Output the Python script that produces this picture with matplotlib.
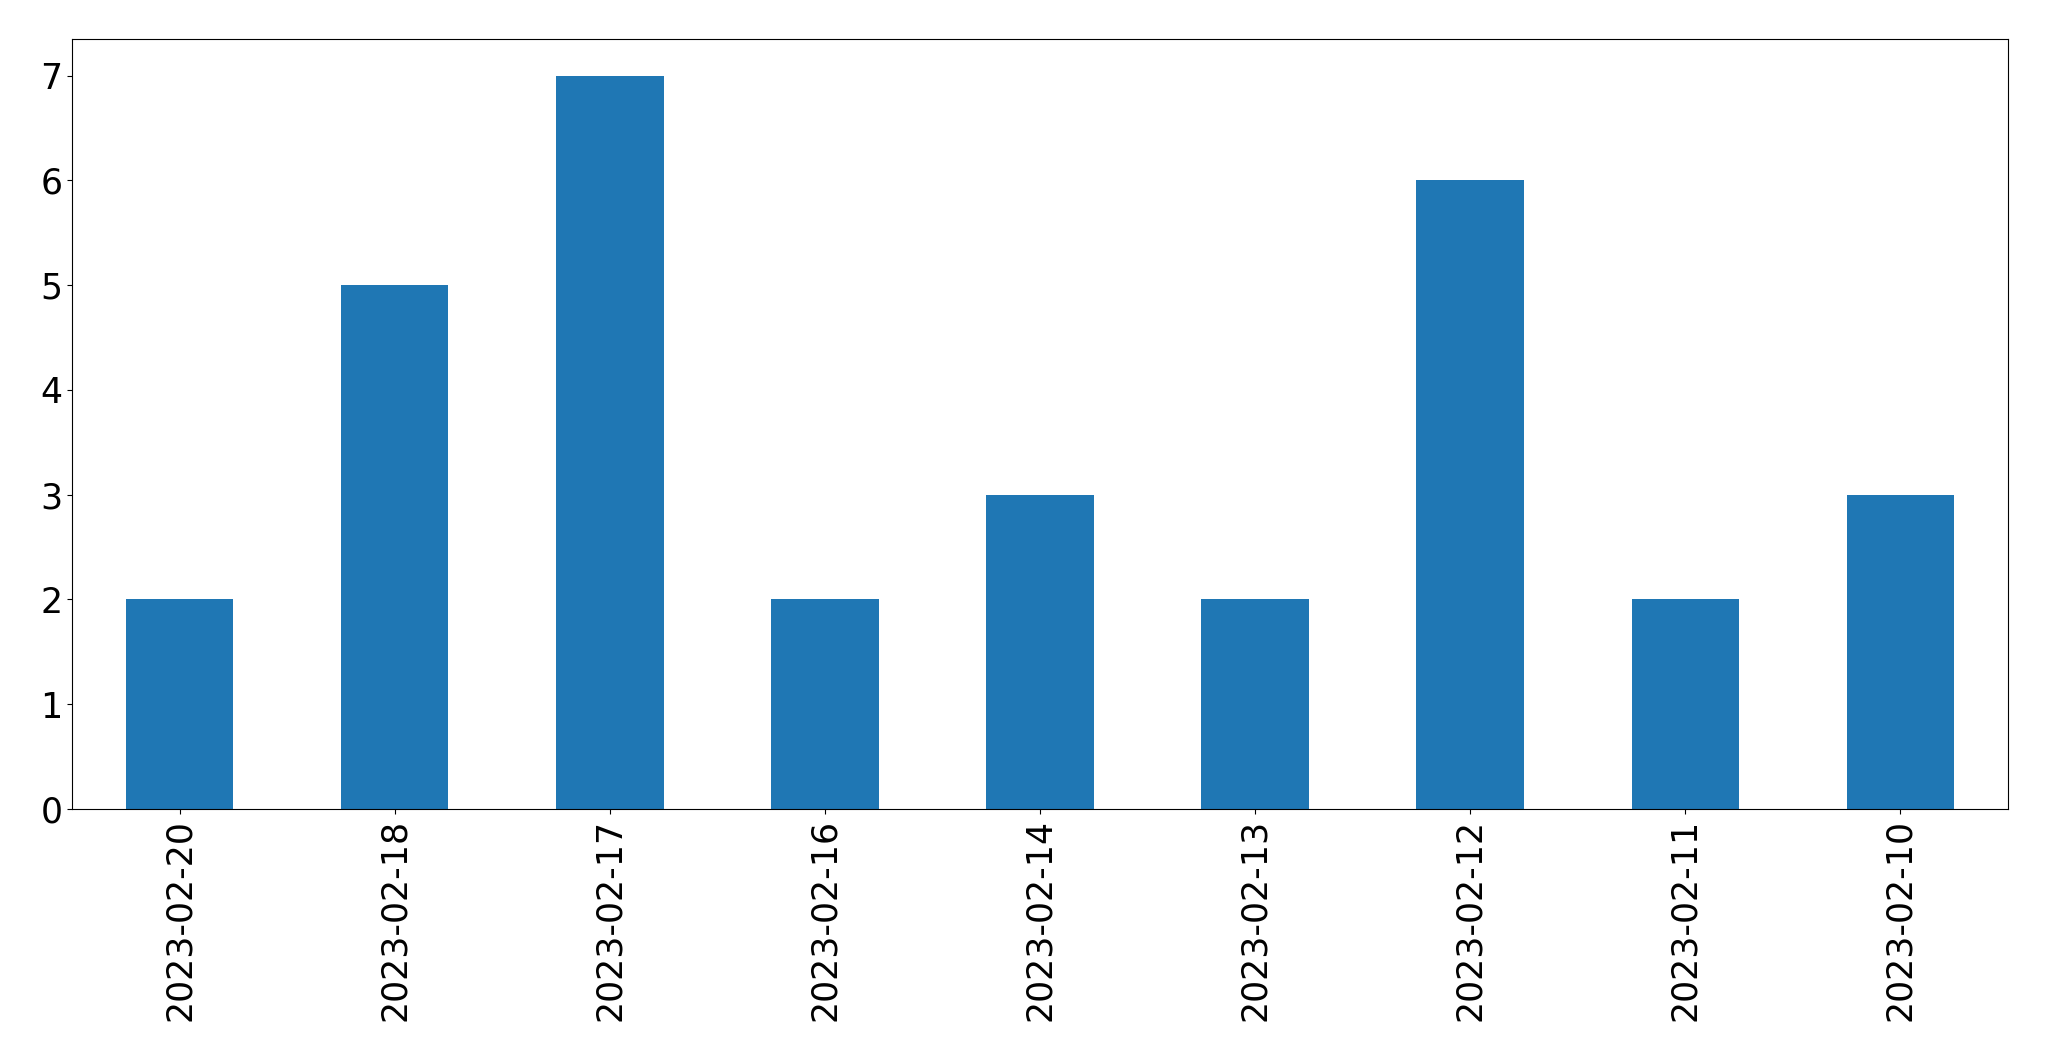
import matplotlib
matplotlib.use("Agg")
import matplotlib.pyplot as plt

dates  = ['2023-02-20', '2023-02-18', '2023-02-17', '2023-02-16', '2023-02-14',
          '2023-02-13', '2023-02-12', '2023-02-11', '2023-02-10']
counts = [2, 5, 7, 2, 3, 2, 6, 2, 3]

fig = plt.figure(figsize=(20.49, 10.61), dpi=100)
ax = fig.add_axes([72/2049, 1-809/1061, (2008-72)/2049, (809-39)/1061])

x = range(len(dates))
ax.bar(x, counts, width=0.5, color='#1f77b4')
ax.set_xlim(-0.5, len(dates)-0.5)
ax.set_xticks(list(x))
ax.set_xticklabels(dates, rotation=90)
ax.tick_params(axis='both', labelsize=25)

fig.savefig('out.png', dpi=100)
